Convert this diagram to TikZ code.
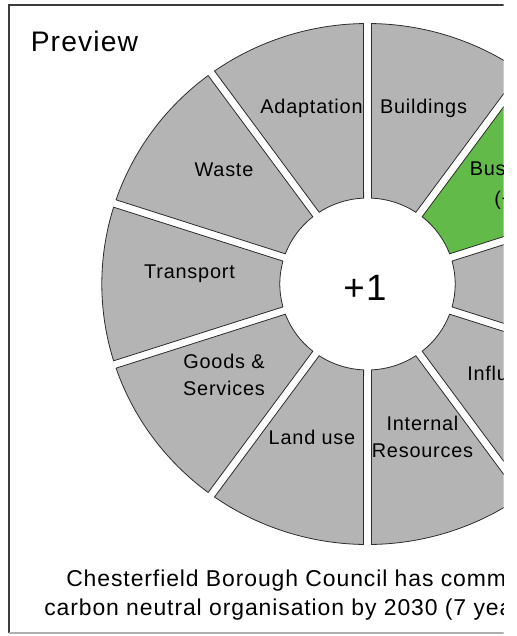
\documentclass[tikz,border=0pt]{standalone}
\usepackage{fontspec}
\setmainfont{Liberation Sans}[LetterSpace=4]
\usetikzlibrary{positioning}

\definecolor{segfill}{RGB}{180,180,180}
\definecolor{seggreen}{RGB}{98,186,72}
\definecolor{segline}{RGB}{45,45,45}
\definecolor{framedark}{RGB}{60,60,60}
\definecolor{framelight}{RGB}{175,175,175}

% ring radii and half gap angles (inner / outer edge)
\newcommand{\rin}{86}
\newcommand{\rout}{260.5}
\newcommand{\gin}{2.55}
\newcommand{\gout}{0.85}

% one sector of the wheel: [fill] start angle, end angle
\newcommand{\ringseg}[3][segfill]{%
  \filldraw[seg, fill=#1]
    ({#2+\gin}:\rin) arc[start angle={#2+\gin}, end angle={#3-\gin}, radius=\rin]
    -- ({#3-\gout}:\rout) arc[start angle={#3-\gout}, end angle={#2+\gout}, radius=\rout]
    -- cycle;}

\begin{document}
\begin{tikzpicture}[x=0.75pt, y=-0.75pt,
    seg/.style={draw=segline, line width=0.6pt, line join=miter},
    seglabel/.style={font=\fontsize{14.9}{19.8}\selectfont, align=center, anchor=base, inner sep=0pt},
    caption/.style={font=\fontsize{17.2}{21}\selectfont, anchor=base west, inner sep=0pt}]

  \useasboundingbox (0,0) rectangle (517,636);

  \begin{scope}
    \clip (0,0) rectangle (503.5,636);

    % frame
    \draw[framedark, line width=1pt] (9,633) -- (9,5) -- (540,5);
    \draw[framelight, line width=0.9pt] (9,633) -- (540,633);

    \node[font=\fontsize{21.2}{24}\selectfont, anchor=base west, inner sep=0pt] (title) at (30.5,51) {Preview};

    % the wheel
    \begin{scope}[shift={(367.5,284)}, yscale=-1, xscale=1.02]
      \ringseg{90}{126}
      \ringseg{54}{90}
      \ringseg[seggreen]{18}{54}
      \ringseg{-18}{18}
      \ringseg{-54}{-18}
      \ringseg{-90}{-54}
      \ringseg{234}{270}
      \ringseg{198}{234}
      \ringseg{162}{198}
      \ringseg{126}{162}
    \end{scope}

    \node[font=\fontsize{27.5}{30}\selectfont, anchor=base, inner sep=0pt] (score) at (365,300) {+1};

    % sector labels (two-line ones sit on their last line)
    \node[seglabel] (adaptation) at (311.5,113) {Adaptation};
    \node[seglabel] (buildings) at (423.5,113) {Buildings};
    \node[seglabel, anchor=base west] (business) at (469.5,175) {Bus};
    \node[seglabel, anchor=base west] (businessval) at (494,205) {(+};
    \node[seglabel] (waste) at (224,176) {Waste};
    \node[seglabel] (transport) at (189.5,278) {Transport};
    \node[seglabel] (goods) at (224,395) {Goods \&\\Services};
    \node[seglabel] (landuse) at (312,444) {Land use};
    \node[seglabel] (internal) at (422.5,457) {Internal\\Resources};
    \node[seglabel, anchor=base west] (influence) at (467,380) {Influ};

    % caption under the wheel
    \node[caption] (line1) at (66,586) {Chesterfield Borough Council has comm};
    \node[caption] (line2) at (44,615) {carbon neutral organisation by 2030 (7 yea};
  \end{scope}
\end{tikzpicture}
\end{document}
